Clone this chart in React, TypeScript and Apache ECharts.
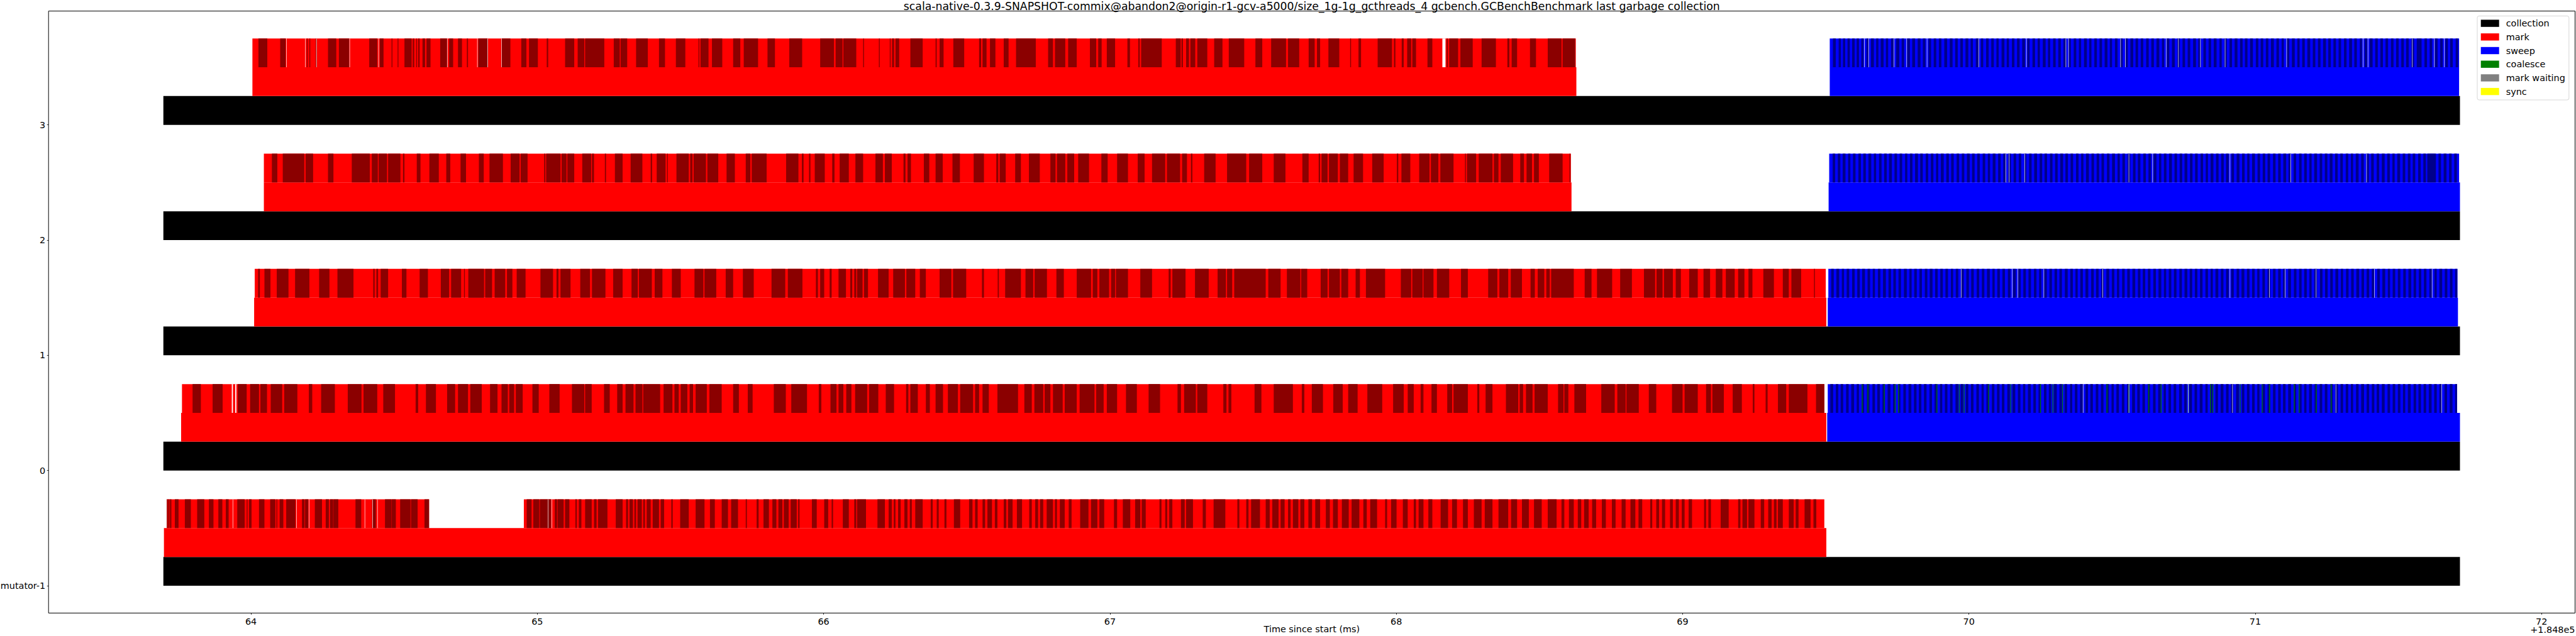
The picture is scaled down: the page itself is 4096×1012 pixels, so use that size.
import { useEffect, useRef } from 'react';
import * as echarts from 'echarts';

const FONT = "'DejaVu Sans', sans-serif";
const TITLE = 'scala-native-0.3.9-SNAPSHOT-commix@abandon2@origin-r1-gcv-a5000/size_1g-1g_gcthreads_4 gcbench.GCBenchBenchmark last garbage collection';
const X_NAME = 'Time since start (ms)';
const X_OFFSET_LABEL = '+1.848e5';
const rowLabels = ['mutator-1', '0', '1', '2', '3'];
const rowTicks = [0, 1, 2, 3, 4];
const xTicks = [64, 65, 66, 67, 68, 69, 70, 71, 72];
const xMin = 63.293;
const xMax = 72.117;
const yMin = -0.2375;
const yMax = 4.9875;

const legendNames = ['collection', 'mark', 'sweep', 'coalesce', 'mark waiting', 'sync'];
const legendColors = ['#000000', '#ff0000', '#0000ff', '#008000', '#808080', '#ffff00'];
// 0 black, 1 red, 2 darkred, 3 blue, 4 darkblue, 5 green, 6 white
const palette = ['#000000', '#ff0000', '#8b0000', '#0000ff', '#00008b', '#008000', '#ffffff'];

// [row, start, end]
const collectionSpans = [
  [0, 63.694, 71.715], [1, 63.694, 71.715], [2, 63.694, 71.715], [3, 63.694, 71.715], [4, 63.694, 71.715],
];
const markSpans = [
  [0, 63.696, 69.502], [1, 63.756, 69.502], [2, 64.011, 69.502], [3, 64.045, 68.612], [4, 64.005, 68.629],
];
const sweepSpans = [
  [1, 69.505, 71.715], [2, 69.507, 71.708], [3, 69.510, 71.715], [4, 69.514, 71.712],
];
const markStripeBase = [
  [0, 63.706, 64.622], [0, 64.953, 69.495], [1, 63.759, 69.495], [2, 64.013, 69.500], [3, 64.045, 68.610], [4, 64.005, 68.627],
];
// [row, start, end] of sweep stripe band
const sweepStripeBase = [
  [1, 69.507, 71.705], [2, 69.509, 71.706], [3, 69.512, 71.712], [4, 69.514, 71.712],
];
const whiteGaps = [
  [4, 68.161, 68.172], [1, 63.933, 63.937], [1, 63.945, 63.949],
];

// dark mark stripes, flat [start, end, start, end, ...]
const markStripesM = [
  63.706, 63.709, 63.711, 63.715, 63.717, 63.722, 63.734, 63.747, 63.769, 63.790, 63.812, 63.837, 63.853, 63.869,
  63.886, 63.900, 63.912, 63.922, 63.952, 63.978, 63.985, 63.988, 63.993, 64.002, 64.028, 64.047, 64.067, 64.085,
  64.089, 64.092, 64.100, 64.113, 64.123, 64.155, 64.178, 64.187, 64.189, 64.200, 64.223, 64.248, 64.261, 64.272,
  64.276, 64.287, 64.288, 64.305, 64.365, 64.385, 64.423, 64.436, 64.468, 64.491, 64.492, 64.506, 64.521, 64.557,
  64.559, 64.582, 64.606, 64.622,
  64.963, 64.980, 64.986, 65.007, 65.009, 65.048, 65.061, 65.069, 65.071, 65.092, 65.097, 65.112,
  65.133, 65.138, 65.145, 65.154, 65.167, 65.190, 65.198, 65.207, 65.212, 65.245, 65.274, 65.298, 65.310, 65.317,
  65.322, 65.334, 65.339, 65.345, 65.350, 65.365, 65.370, 65.376, 65.382, 65.396, 65.403, 65.425, 65.431, 65.443,
  65.468, 65.473, 65.499, 65.529, 65.553, 65.584, 65.603, 65.620, 65.644, 65.666, 65.677, 65.701, 65.728, 65.732,
  65.766, 65.773, 65.790, 65.809, 65.821, 65.835, 65.842, 65.856, 65.861, 65.878, 65.885, 65.906, 65.911, 65.916,
  65.959, 65.976, 66.002, 66.016, 66.028, 66.033, 66.067, 66.088, 66.107, 66.114, 66.117, 66.148, 66.188, 66.214,
  66.227, 66.238, 66.245, 66.251, 66.260, 66.269, 66.282, 66.293, 66.301, 66.308, 66.320, 66.346, 66.374, 66.381,
  66.395, 66.402, 66.422, 66.429, 66.455, 66.477, 66.508, 66.520, 66.529, 66.538, 66.555, 66.564, 66.572, 66.588,
  66.598, 66.607, 66.629, 66.638, 66.644, 66.660, 66.675, 66.693, 66.718, 66.727, 66.739, 66.749, 66.756, 66.767,
  66.779, 66.801, 66.808, 66.815, 66.825, 66.842, 66.856, 66.866, 66.896, 66.925, 66.934, 66.956, 66.963, 66.980,
  67.014, 67.025, 67.045, 67.071, 67.088, 67.106, 67.111, 67.125, 67.173, 67.180, 67.193, 67.200, 67.207, 67.218,
  67.248, 67.261, 67.266, 67.290, 67.324, 67.335, 67.362, 67.403, 67.445, 67.452, 67.476, 67.484, 67.493, 67.524,
  67.544, 67.558, 67.567, 67.589, 67.596, 67.610, 67.622, 67.631, 67.639, 67.658, 67.665, 67.679, 67.693, 67.706,
  67.717, 67.734, 67.754, 67.768, 67.779, 67.796, 67.810, 67.834, 67.844, 67.871, 67.885, 67.897, 67.909, 67.933,
  67.961, 67.968, 67.982, 68.001, 68.023, 68.040, 68.061, 68.069, 68.078, 68.095, 68.112, 68.126, 68.155, 68.181,
  68.195, 68.212, 68.233, 68.250, 68.271, 68.298, 68.309, 68.336, 68.357, 68.391, 68.401, 68.422, 68.439, 68.463,
  68.481, 68.508, 68.529, 68.560, 68.577, 68.587, 68.603, 68.620, 68.634, 68.646, 68.656, 68.672, 68.684, 68.698,
  68.718, 68.732, 68.753, 68.766, 68.787, 68.801, 68.818, 68.835, 68.846, 68.859, 68.887, 68.894, 68.908, 68.918,
  68.928, 68.939, 68.956, 68.966, 68.976, 68.987, 68.997, 69.007, 69.021, 69.033, 69.075, 69.082, 69.090, 69.099,
  69.133, 69.161, 69.194, 69.202, 69.209, 69.225, 69.230, 69.251, 69.273, 69.285, 69.299, 69.311, 69.319, 69.328,
  69.333, 69.350, 69.371, 69.388, 69.395, 69.405, 69.426, 69.447, 69.457, 69.467,
];
const markStripes0 = [
  63.796, 63.825, 63.866, 63.901, 63.954, 63.985, 63.997, 64.028, 64.033, 64.056, 64.069, 64.109, 64.116, 64.162,
  64.202, 64.214, 64.245, 64.293, 64.338, 64.386, 64.393, 64.441, 64.462, 64.503, 64.575, 64.584, 64.611, 64.646,
  64.685, 64.713, 64.723, 64.758, 64.766, 64.806, 64.835, 64.861, 64.875, 64.897, 64.902, 64.919, 64.925, 64.949,
  64.983, 65.005, 65.042, 65.078, 65.121, 65.164, 65.167, 65.190, 65.233, 65.253, 65.279, 65.298, 65.308, 65.336,
  65.343, 65.367, 65.370, 65.429, 65.441, 65.472, 65.479, 65.494, 65.501, 65.524, 65.532, 65.544, 65.553, 65.592,
  65.601, 65.644, 65.684, 65.704, 65.735, 65.752, 65.826, 65.868, 65.887, 65.942, 65.983, 65.992, 66.024, 66.045,
  66.052, 66.069, 66.079, 66.097, 66.110, 66.152, 66.159, 66.191, 66.217, 66.246, 66.288, 66.296, 66.303, 66.329,
  66.357, 66.371, 66.391, 66.417, 66.434, 66.469, 66.477, 66.522, 66.529, 66.543, 66.555, 66.577, 66.607, 66.679,
  66.701, 66.727, 66.736, 66.767, 66.772, 66.792, 66.801, 66.835, 66.842, 66.884, 66.894, 66.946, 66.952, 66.978,
  66.989, 67.025, 67.056, 67.094, 67.135, 67.175, 67.236, 67.248, 67.259, 67.300, 67.305, 67.340, 67.396, 67.407,
  67.414, 67.424, 67.505, 67.529, 67.572, 67.639, 67.670, 67.679, 67.705, 67.744, 67.780, 67.813, 67.832, 67.865,
  67.899, 67.951, 67.989, 68.026, 68.040, 68.061, 68.085, 68.095, 68.123, 68.142, 68.178, 68.195, 68.200, 68.250,
  68.283, 68.290, 68.312, 68.336, 68.383, 68.426, 68.431, 68.443, 68.453, 68.476, 68.483, 68.529, 68.565, 68.584,
  68.587, 68.601, 68.622, 68.663, 68.716, 68.763, 68.772, 68.801, 68.804, 68.847, 68.882, 68.908, 68.963, 69.000,
  69.007, 69.053, 69.082, 69.099, 69.104, 69.144, 69.175, 69.207, 69.245, 69.251, 69.290, 69.297, 69.333, 69.362,
  69.371, 69.436, 69.466, 69.495,
];
const markStripes1 = [
  64.025, 64.031, 64.047, 64.068, 64.090, 64.131, 64.154, 64.204, 64.238, 64.274, 64.302, 64.358, 64.427, 64.432,
  64.438, 64.444, 64.453, 64.479, 64.527, 64.543, 64.589, 64.618, 64.663, 64.692, 64.699, 64.734, 64.744, 64.747,
  64.759, 64.814, 64.818, 64.842, 64.851, 64.888, 64.894, 64.913, 64.928, 64.959, 65.011, 65.055, 65.067, 65.074,
  65.081, 65.116, 65.150, 65.184, 65.191, 65.238, 65.265, 65.298, 65.329, 65.351, 65.355, 65.400, 65.410, 65.437,
  65.470, 65.501, 65.549, 65.580, 65.584, 65.625, 65.658, 65.684, 65.718, 65.756, 65.818, 65.866, 65.875, 65.926,
  65.973, 65.980, 65.988, 66.002, 66.021, 66.028, 66.052, 66.078, 66.093, 66.100, 66.107, 66.114, 66.117, 66.136,
  66.141, 66.155, 66.190, 66.227, 66.243, 66.284, 66.289, 66.320, 66.336, 66.357, 66.405, 66.446, 66.452, 66.498,
  66.553, 66.560, 66.608, 66.612, 66.634, 66.689, 66.705, 66.732, 66.737, 66.780, 66.813, 66.839, 66.884, 66.934,
  66.940, 66.956, 66.963, 66.997, 67.004, 67.018, 67.021, 67.063, 67.106, 67.147, 67.205, 67.212, 67.218, 67.264,
  67.297, 67.345, 67.376, 67.405, 67.409, 67.427, 67.434, 67.544, 67.553, 67.596, 67.618, 67.665, 67.668, 67.689,
  67.736, 67.760, 67.765, 67.803, 67.808, 67.832, 67.858, 67.873, 67.894, 67.961, 68.016, 68.052, 68.056, 68.092,
  68.095, 68.130, 68.142, 68.185, 68.226, 68.250, 68.321, 68.353, 68.360, 68.391, 68.400, 68.439, 68.469, 68.484,
  68.494, 68.517, 68.524, 68.536, 68.541, 68.620, 68.658, 68.682, 68.701, 68.754, 68.782, 68.823, 68.865, 68.904,
  68.909, 68.930, 68.935, 68.966, 68.976, 68.994, 69.023, 69.053, 69.073, 69.096, 69.116, 69.139, 69.151, 69.182,
  69.194, 69.216, 69.230, 69.244, 69.282, 69.319, 69.350, 69.371, 69.380, 69.414, 69.459, 69.462,
];
const markStripes2 = [
  64.073, 64.092, 64.111, 64.186, 64.191, 64.217, 64.269, 64.288, 64.352, 64.415, 64.422, 64.443, 64.446, 64.475,
  64.479, 64.522, 64.531, 64.536, 64.579, 64.592, 64.623, 64.656, 64.682, 64.696, 64.732, 64.751, 64.796, 64.813,
  64.833, 64.880, 64.907, 64.938, 64.942, 64.966, 65.024, 65.028, 65.031, 65.081, 65.085, 65.102, 65.105, 65.129,
  65.157, 65.188, 65.191, 65.198, 65.236, 65.240, 65.271, 65.298, 65.326, 65.367, 65.396, 65.401, 65.417, 65.448,
  65.453, 65.456, 65.486, 65.529, 65.534, 65.542, 65.546, 65.589, 65.594, 65.632, 65.661, 65.690, 65.728, 65.744,
  65.749, 65.801, 65.869, 65.912, 65.924, 65.930, 65.949, 65.954, 65.969, 66.004, 66.030, 66.038, 66.056, 66.088,
  66.111, 66.138, 66.181, 66.207, 66.214, 66.238, 66.279, 66.286, 66.293, 66.305, 66.350, 66.369, 66.391, 66.416,
  66.450, 66.476, 66.524, 66.560, 66.603, 66.610, 66.615, 66.636, 66.669, 66.689, 66.717, 66.755, 66.792, 66.810,
  66.815, 66.844, 66.851, 66.875, 66.889, 66.927, 66.970, 66.992, 67.025, 67.063, 67.097, 67.121, 67.147, 67.193,
  67.199, 67.245, 67.252, 67.269, 67.283, 67.288, 67.329, 67.369, 67.409, 67.476, 67.486, 67.532, 67.572, 67.613,
  67.672, 67.694, 67.729, 67.734, 67.739, 67.760, 67.765, 67.796, 67.803, 67.832, 67.851, 67.884, 67.916, 67.956,
  68.002, 68.007, 68.018, 68.049, 68.080, 68.116, 68.121, 68.147, 68.154, 68.200, 68.240, 68.243, 68.247, 68.279,
  68.288, 68.336, 68.341, 68.357, 68.365, 68.408, 68.433, 68.446, 68.455, 68.474, 68.481, 68.498, 68.534, 68.581,
  68.605, 68.608,
];
const markStripes3 = [
  64.026, 64.057, 64.102, 64.121, 64.195, 64.198, 64.204, 64.207, 64.226, 64.229, 64.269, 64.298, 64.307, 64.343,
  64.413, 64.441, 64.450, 64.463, 64.491, 64.494, 64.512, 64.515, 64.536, 64.561, 64.565, 64.570, 64.577, 64.580,
  64.584, 64.589, 64.599, 64.608, 64.613, 64.627, 64.661, 64.685, 64.692, 64.706, 64.723, 64.737, 64.754, 64.758,
  64.794, 64.827, 64.875, 64.906, 64.944, 64.962, 64.971, 65.002, 65.033, 65.038, 65.097, 65.129, 65.141, 65.164,
  65.167, 65.234, 65.267, 65.288, 65.291, 65.314, 65.345, 65.386, 65.425, 65.446, 65.484, 65.517, 65.563, 65.566,
  65.570, 65.598, 65.610, 65.646, 65.684, 65.709, 65.721, 65.771, 65.804, 65.830, 65.880, 65.925, 65.988, 66.036,
  66.042, 66.066, 66.069, 66.114, 66.138, 66.141, 66.193, 66.196, 66.231, 66.234, 66.239, 66.246, 66.251, 66.264,
  66.303, 66.346, 66.391, 66.395, 66.405, 66.419, 66.453, 66.491, 66.543, 66.550, 66.555, 66.569, 66.581, 66.600,
  66.629, 66.646, 66.672, 66.741, 66.784, 66.801, 66.808, 66.844, 66.854, 66.884, 66.930, 66.952, 66.959, 66.971,
  66.989, 67.018, 67.061, 67.070, 67.099, 67.104, 67.109, 67.181, 67.230, 67.247, 67.250, 67.255, 67.266, 67.276,
  67.281, 67.298, 67.305, 67.340, 67.364, 67.393, 67.415, 67.469, 67.508, 67.532, 67.563, 67.615, 67.622, 67.661,
  67.694, 67.715, 67.723, 67.734, 67.763, 67.801, 67.839, 67.842, 67.868, 67.877, 67.935, 67.985, 67.992, 67.997,
  68.019, 68.026, 68.038, 68.052, 68.056, 68.069, 68.109, 68.126, 68.176, 68.180, 68.185, 68.216, 68.224, 68.267,
  68.298, 68.348, 68.388, 68.395, 68.403, 68.422, 68.467, 68.488, 68.529, 68.577, 68.581, 68.625,
];

// sweep stripes as alternating run lengths in microseconds: [blue, darkblue, blue, darkblue, ...]
const sweepRuns3 = [
  11, 10, 10, 8, 7, 8, 8, 8, 8, 9, 7, 8, 8, 8, 10, 7, 9, 10, 8, 8,
  8, 10, 8, 8, 10, 9, 9, 11, 8, 9, 10, 10, 8, 10, 9, 10, 8, 9, 11, 9,
  9, 9, 9, 9, 10, 10, 9, 10, 9, 9, 9, 9, 9, 10, 8, 8, 10, 10, 8, 8,
  10, 9, 9, 9, 9, 8, 10, 10, 8, 8, 10, 9, 9, 9, 9, 10, 8, 8, 10, 9,
  9, 8, 10, 10, 8, 8, 10, 9, 9, 9, 9, 10, 8, 8, 10, 9, 9, 8, 10, 10,
  8, 8, 10, 9, 9, 9, 9, 10, 8, 8, 10, 9, 9, 9, 9, 9, 9, 10, 8, 9,
  9, 9, 10, 9, 9, 9, 9, 10, 9, 8, 9, 9, 9, 10, 9, 9, 9, 9, 9, 9,
  10, 10, 8, 9, 9, 9, 9, 9, 9, 10, 10, 8, 9, 9, 9, 9, 9, 10, 9, 9,
  8, 9, 9, 10, 10, 9, 8, 9, 9, 9, 9, 10, 9, 9, 9, 8, 10, 9, 9, 10,
  9, 8, 9, 9, 9, 10, 9, 9, 9, 9, 9, 10, 8, 9, 9, 9, 9, 9, 10, 9,
  9, 10, 8, 9, 10, 8, 9, 9, 9, 10, 9, 9, 9, 9, 9, 9, 10, 9, 9, 9,
  9, 9, 8, 9, 9, 10, 9, 17, 10, 9, 9, 9, 9, 10, 9, 9, 9, 9, 8, 9,
  10, 9, 9, 9, 9, 10, 8, 9, 9, 9, 9, 14, 9, 9, 9, 9, 9, 9, 9, 9,
];
const sweepRuns2 = [
  12, 9, 9, 9, 8, 10, 9, 8, 9, 9, 10, 9, 8, 9, 9, 10, 9, 8, 10, 9,
  9, 9, 8, 10, 9, 9, 9, 9, 10, 8, 9, 9, 9, 10, 8, 9, 10, 9, 9, 9,
  9, 8, 9, 10, 9, 9, 8, 9, 10, 9, 9, 9, 9, 10, 8, 9, 9, 9, 10, 9,
  9, 8, 9, 10, 9, 9, 9, 9, 8, 10, 9, 9, 9, 9, 10, 8, 9, 9, 9, 10,
  9, 9, 8, 9, 10, 9, 9, 9, 9, 10, 8, 9, 9, 9, 10, 9, 9, 8, 9, 10,
  9, 9, 9, 9, 8, 9, 10, 9, 9, 10, 9, 8, 9, 9, 9, 10, 9, 9, 8, 9,
  10, 9, 9, 9, 9, 10, 9, 8, 9, 9, 9, 10, 9, 9, 9, 9, 8, 10, 9, 9,
  9, 9, 10, 9, 9, 8, 9, 10, 9, 9, 9, 9, 8, 9, 10, 9, 9, 10, 9, 9,
  9, 8, 9, 10, 9, 9, 9, 9, 8, 9, 10, 9, 9, 9, 9, 10, 8, 9, 9, 9,
  10, 9, 9, 9, 9, 8, 9, 10, 9, 9, 9, 9, 8, 10, 9, 9, 9, 9, 10, 9,
  9, 8, 9, 10, 9, 9, 9, 9, 8, 9, 10, 9, 9, 10, 9, 9, 9, 8, 9, 10,
  9, 9, 9, 9, 8, 9, 10, 9, 9, 9, 5, 30, 9, 9, 9, 10, 9, 9, 9, 9,
  9, 9, 10, 9, 9, 9, 9, 9, 8, 9, 9, 10, 9, 9, 9, 9, 9, 9, 9, 9,
];
const sweepRuns1 = [
  10, 9, 9, 10, 9, 8, 9, 9, 10, 9, 9, 9, 8, 10, 9, 9, 9, 8, 10, 9,
  9, 10, 9, 9, 8, 9, 9, 9, 10, 10, 9, 8, 9, 9, 9, 9, 10, 9, 8, 10,
  9, 9, 9, 9, 9, 9, 10, 8, 9, 9, 9, 10, 9, 9, 8, 9, 10, 9, 9, 9,
  9, 10, 9, 8, 9, 9, 9, 9, 10, 9, 9, 10, 8, 9, 9, 9, 9, 9, 10, 9,
  9, 8, 9, 10, 9, 9, 9, 9, 8, 9, 10, 10, 9, 9, 9, 8, 9, 9, 9, 10,
  10, 9, 8, 9, 9, 9, 9, 10, 9, 9, 9, 8, 10, 9, 9, 9, 9, 10, 9, 9,
  8, 9, 9, 9, 10, 9, 9, 10, 9, 8, 9, 9, 9, 9, 10, 9, 9, 10, 8, 9,
  9, 9, 9, 9, 10, 9, 9, 8, 9, 10, 9, 9, 9, 9, 9, 9, 10, 9, 8, 10,
  9, 9, 9, 9, 9, 8, 10, 9, 9, 10, 9, 9, 9, 9, 8, 9, 9, 10, 10, 9,
  9, 9, 9, 9, 9, 8, 9, 10, 10, 9, 9, 9, 9, 9, 9, 10, 9, 8, 10, 9,
  9, 9, 9, 10, 8, 9, 9, 9, 9, 9, 10, 9, 9, 10, 9, 8, 9, 9, 9, 9,
  10, 9, 9, 10, 8, 9, 9, 9, 9, 9, 10, 9, 9, 8, 9, 10, 9, 9, 9, 9,
  9, 9, 10, 9, 8, 25, 9, 9, 9, 9, 9, 9, 9, 9, 9, 9, 9, 9, 9, 9,
];
const sweepRuns0 = [
  9, 10, 9, 9, 8, 9, 10, 9, 9, 10, 9, 8, 9, 9, 9, 10, 10, 9, 8, 9,
  9, 9, 9, 10, 9, 9, 9, 8, 10, 9, 9, 10, 9, 9, 8, 9, 9, 9, 10, 9,
  9, 10, 9, 8, 9, 9, 9, 9, 10, 10, 8, 9, 9, 9, 9, 9, 10, 9, 9, 8,
  9, 10, 9, 9, 9, 9, 8, 9, 10, 9, 9, 10, 9, 9, 9, 8, 9, 10, 9, 9,
  9, 9, 10, 9, 8, 9, 9, 10, 9, 9, 9, 9, 10, 8, 9, 9, 9, 10, 9, 9,
  8, 9, 10, 9, 9, 9, 9, 10, 9, 8, 9, 9, 10, 9, 9, 9, 9, 10, 8, 9,
  9, 9, 9, 9, 10, 9, 9, 10, 9, 8, 9, 9, 9, 9, 10, 10, 8, 9, 9, 9,
  9, 9, 9, 10, 10, 8, 9, 9, 9, 9, 9, 10, 9, 9, 8, 9, 9, 10, 10, 9,
  9, 9, 9, 9, 9, 8, 10, 9, 9, 10, 9, 9, 9, 9, 8, 9, 9, 10, 9, 9,
  10, 9, 9, 8, 9, 10, 9, 9, 9, 9, 9, 9, 10, 9, 8, 10, 9, 9, 9, 9,
  9, 8, 10, 9, 9, 10, 9, 9, 9, 9, 8, 9, 9, 10, 10, 9, 9, 9, 9, 9,
  9, 8, 9, 10, 10, 9, 8, 9, 9, 9, 9, 10, 9, 9, 9, 8, 10, 9, 9, 10,
  9, 9, 9, 9, 8, 9, 9, 10, 9, 9, 9, 9, 9, 9, 9, 9, 9, 9, 9, 9,
];

// thin white hairlines between segments, per row
const hairlinesM = [63.936, 64.158, 64.202, 64.397, 64.424, 64.441, 65.037, 65.050];
const hairlines3 = [
  64.123, 64.189, 64.228, 64.344, 64.445, 64.685, 64.790, 64.826, 64.874,
  69.634, 69.649, 69.738, 69.782, 69.853, 70.034, 70.200, 70.338, 70.347, 70.529, 70.546, 70.688, 70.731,
  70.808, 70.894, 71.109, 71.376, 71.393, 71.548, 71.625, 71.660,
];
const hairlines2 = [70.128, 70.140, 70.194, 70.558, 70.641, 70.911, 71.123, 71.388];
const hairlines1 = [69.972, 70.150, 70.170, 70.261, 70.467, 70.911, 71.049, 71.104, 71.212, 71.416, 71.617];
const hairlines0 = [70.398, 70.558, 70.765, 70.920, 71.281, 71.651];

// thin coalesce lines in row "0"
const coalesceLines0 = [
  69.626, 69.646, 69.703, 69.741, 69.753, 69.887, 69.965, 69.982, 70.068, 70.145, 70.249, 70.292, 70.326, 70.481,
  70.558, 70.627, 70.670, 70.765, 70.842, 70.851, 70.946, 71.023, 71.049, 71.135, 71.152, 71.212, 71.264,
];

const BAND = 0.25;

function spans(list: number[][], layer: number, color: number) {
  return list.map((d) => [d[0], d[1], d[2], layer, color]);
}
function flat(row: number, arr: number[], color: number) {
  const out: number[][] = [];
  for (let i = 0; i + 1 < arr.length; i += 2) out.push([row, arr[i], arr[i + 1], 2, color]);
  return out;
}
function lines(row: number, arr: number[], w: number, color: number) {
  return arr.map((v) => [row, v, v + w, 2, color]);
}
function runs(band: number[], arr: number[], color: number) {
  const row = band[0];
  const end = band[2];
  const out: number[][] = [];
  let t = band[1];
  for (let i = 0; i + 1 < arr.length; i += 2) {
    const s = t + arr[i] / 1000;
    const e = Math.min(s + arr[i + 1] / 1000, end);
    if (s >= end) break;
    out.push([row, s, e, 2, color]);
    t = s + arr[i + 1] / 1000;
  }
  return out;
}

const renderItem = (_params: any, api: any) => {
  const row = api.value(0);
  const s = api.value(1);
  const e = api.value(2);
  const layer = api.value(3);
  const c = api.value(4);
  const p0 = api.coord([s, row + layer * BAND]);
  const p1 = api.coord([e, row + (layer + 1) * BAND]);
  return {
    type: 'rect',
    shape: { x: p0[0], y: p1[1], width: Math.max(p1[0] - p0[0], 0.6), height: p0[1] - p1[1] },
    style: { fill: palette[c] },
    silent: true,
  };
};

export default function App() {
  const ref = useRef<HTMLDivElement>(null);
  useEffect(() => {
    if (!ref.current) return;
    const chart = echarts.init(ref.current, null, { renderer: 'svg' });
    const markData = [
      ...spans(markSpans, 1, 1),
      ...spans(markStripeBase, 2, 1),
      ...flat(0, markStripesM, 2),
      ...flat(1, markStripes0, 2),
      ...flat(2, markStripes1, 2),
      ...flat(3, markStripes2, 2),
      ...flat(4, markStripes3, 2),
    ];
    const sweepData = [
      ...spans(sweepSpans, 1, 3),
      ...spans(sweepStripeBase, 2, 3),
      ...runs(sweepStripeBase[0], sweepRuns0, 4),
      ...runs(sweepStripeBase[1], sweepRuns1, 4),
      ...runs(sweepStripeBase[2], sweepRuns2, 4),
      ...runs(sweepStripeBase[3], sweepRuns3, 4),
    ];
    const gapData = [
      ...spans(whiteGaps, 2, 6),
      ...lines(0, hairlinesM, 0.0015, 6),
      ...lines(1, hairlines0, 0.0015, 6),
      ...lines(2, hairlines1, 0.0015, 6),
      ...lines(3, hairlines2, 0.0015, 6),
      ...lines(4, hairlines3, 0.0015, 6),
    ];
    const base = {
      type: 'custom',
      renderItem,
      encode: { x: [1, 2], y: 0 },
      clip: true,
      animation: false,
    };
    chart.setOption({
      animation: false,
      grid: {
        left: 77.2, right: 1.5, top: 17.6, bottom: 36.5,
        show: true, borderColor: '#000', borderWidth: 1, backgroundColor: '#fff',
        containLabel: false, outerBoundsMode: 'none',
      },
      xAxis: {
        type: 'value', min: xMin, max: xMax, position: 'bottom',
        name: X_NAME, nameLocation: 'middle', nameGap: 18, nameMoveOverlap: false,
        nameTextStyle: { fontFamily: FONT, fontSize: 14.4, color: '#000', lineHeight: 15, verticalAlign: 'top' },
        axisLine: { show: false, onZero: false },
        splitLine: { show: false },
        axisTick: { show: true, length: 2.5, lineStyle: { color: '#000', width: 0.8 }, customValues: xTicks },
        axisLabel: {
          fontFamily: FONT, fontSize: 14.4, color: '#000', margin: 6, customValues: xTicks,
          formatter: (v: number) => String(Math.round(v)),
        },
      },
      yAxis: {
        type: 'value', min: yMin, max: yMax, position: 'left',
        axisLine: { show: false, onZero: false },
        splitLine: { show: false },
        axisTick: { show: true, length: 2.5, lineStyle: { color: '#000', width: 0.8 }, customValues: rowTicks },
        axisLabel: {
          fontFamily: FONT, fontSize: 14.4, color: '#000', margin: 5, customValues: rowTicks,
          formatter: (v: number) => rowLabels[Math.round(v)] ?? '',
        },
      },
      legend: {
        orient: 'vertical', left: 3939, top: 25.4,
        data: legendNames.map((n) => ({ name: n, icon: 'rect' })),
        itemWidth: 29, itemHeight: 11.4, itemGap: 5.7,
        padding: [3.7, 6, 5.4, 5.7],
        backgroundColor: '#fff', borderColor: '#d6d6d6', borderWidth: 1, borderRadius: 3,
        selectedMode: false,
        textStyle: { fontFamily: FONT, fontSize: 14.4, color: '#000', lineHeight: 16, padding: [0, 0, 0, 6] },
      },
      graphic: [
        {
          type: 'text', x: 2085.8, y: 9.5,
          style: { text: TITLE, fill: '#000', font: `17.3px ${FONT}`, textAlign: 'center', textVerticalAlign: 'middle' },
        },
        {
          type: 'text', x: 4094.5, y: 1002,
          style: { text: X_OFFSET_LABEL, fill: '#000', font: `14.4px ${FONT}`, textAlign: 'right', textVerticalAlign: 'middle' },
        },
      ],
      series: [
        { ...base, name: legendNames[0], itemStyle: { color: legendColors[0] }, data: spans(collectionSpans, 0, 0) },
        { ...base, name: legendNames[1], itemStyle: { color: legendColors[1] }, data: markData },
        { ...base, name: legendNames[2], itemStyle: { color: legendColors[2] }, data: sweepData },
        { ...base, name: legendNames[3], itemStyle: { color: legendColors[3] }, data: lines(1, coalesceLines0, 0.0025, 5) },
        { ...base, name: legendNames[4], itemStyle: { color: legendColors[4] }, data: [] },
        { ...base, name: legendNames[5], itemStyle: { color: legendColors[5] }, data: [] },
        { ...base, name: 'gaps', itemStyle: { color: '#fff' }, data: gapData },
      ],
    });
    return () => chart.dispose();
  }, []);
  return <div ref={ref} style={{ position: 'absolute', left: 0, top: 0, width: 4096, height: 1012 }} />;
}
